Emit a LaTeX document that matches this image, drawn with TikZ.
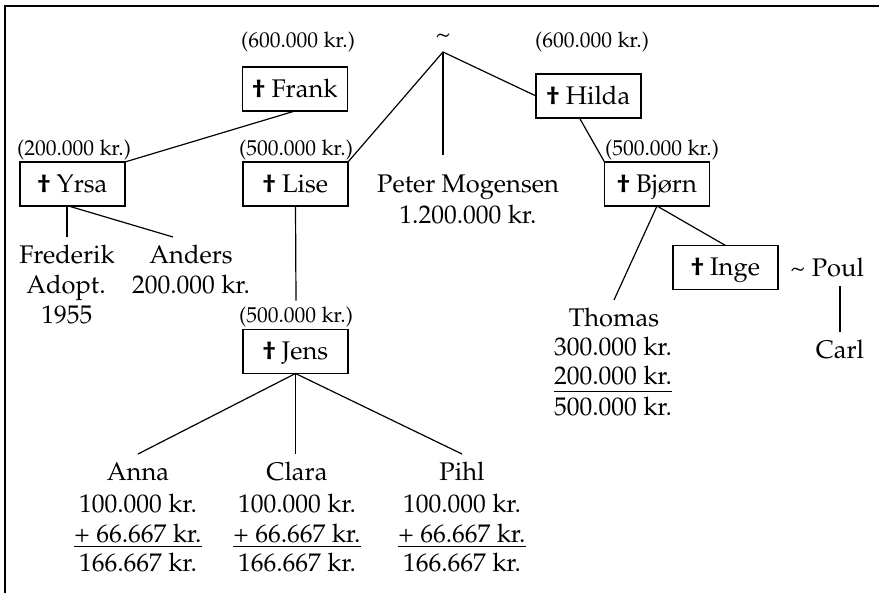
\documentclass[tikz,border=0pt]{standalone}
\usepackage[T1]{fontenc}
\usepackage{mathpazo}
\usetikzlibrary{calc}
\newcommand\bodyfont{\fontsize{25.5}{30}\selectfont}
\newcommand\labfont{\fontsize{21.5}{25}\selectfont}
\newcommand\dg{{\bfseries\textdagger}}
\newcommand\ulat[2]{\setbox0\hbox{#2}\rlap{\rule[-#1]{\wd0}{1.1pt}}\box0}
\tikzset{
  every node/.style={inner sep=0pt, outer sep=0pt},
  box/.style={draw, line width=1.3pt, minimum width=105pt, minimum height=44pt,
    font=\bodyfont, text height=17pt, text depth=0pt},
  txt/.style={font=\bodyfont, text height=17pt, text depth=0pt, inner ysep=9.5pt, inner xsep=2pt},
  lab/.style={font=\labfont, text height=14.8pt, text depth=0pt, inner ysep=7pt},
  conn/.style={line width=1.2pt},
}
\begin{document}
\begin{tikzpicture}[x=1pt,y=-1pt]
\useasboundingbox (0,0) rectangle (879,593);
\draw[line width=2.4pt] (5,593) -- (5,6) -- (879,6);

\node[font=\bodyfont] (tilde) at (443,38) {\textasciitilde};
\coordinate (J) at (443,52);
\node[lab] (frankL) at (298,40) {(600.000 kr.)};
\node[box] (frank) at (295,89) {\dg\ Frank};
\node[lab] (hildaL) at (592,40) {(600.000 kr.)};
\node[box] (hilda) at (588.5,96) {\dg\ Hilda};
\node[lab] (yrsaL) at (74,148) {(200.000 kr.)};
\node[box] (yrsa) at (72.5,184) {\dg\ Yrsa};
\node[lab] (liseL) at (296,148) {(500.000 kr.)};
\node[box] (lise) at (295.5,184) {\dg\ Lise};
\node[txt, inner ysep=20pt] (peter) at (468,184) {Peter Mogensen};
\node[txt] (peter2) at (468,215) {1.200.000 kr.};
\node[lab] (bjornL) at (662,148) {(500.000 kr.)};
\node[box] (bjorn) at (657,184) {\dg\ Bj\o rn};
\node[box] (inge) at (725.5,267.5) {\dg\ Inge};
\node[txt, anchor=west] (poul) at (788,268) {\textasciitilde\ Poul};
\node[txt] (carl) at (840,350) {Carl};
\node[txt] (thomas) at (614,318) {Thomas};
\node[txt] (th1) at (613,347) {300.000 kr.};
\node[txt] (th2) at (613,376) {\ulat{8pt}{200.000 kr.}};
\node[txt] (th3) at (613,407) {500.000 kr.};
\node[txt] (fred) at (67,255) {Frederik};
\node[txt] (fred2) at (66,285) {Adopt.};
\node[txt] (fred3) at (67,315) {1955};
\node[txt] (anders) at (191,255) {Anders};
\node[txt] (anders2) at (191,285) {200.000 kr.};
\node[lab] (jensL) at (296,315) {(500.000 kr.)};
\node[box] (jens) at (295.5,351.5) {\dg\ Jens};
\foreach \n/\x/\name in {anna/138/Anna, clara/297/Clara, pihl/462/Pihl} {
  \node[txt] (\n) at (\x,472) {\name};
  \node[txt] (\n1) at (\x,504) {100.000 kr.};
  \node[txt] (\n2) at (\x,534) {\ulat{4.5pt}{+ 66.667 kr.}};
  \node[txt] (\n3) at (\x,563) {166.667 kr.};
}

\draw[conn] (frank.south) -- (yrsa.north east);
\draw[conn] (lise.north east) -- (J) -- (hilda.west);
\draw[conn] (J) -- (J |- peter.north);
\draw[conn] ($(hilda.south)+(-9,0)$) -- (bjorn.north west);
\draw[conn] (bjorn.south) -- (thomas.north);
\draw[conn] (bjorn.south) -- (inge.north);
\draw[conn] (carl.north |- poul.south) -- (carl.north);
\draw[conn] (fred.north |- yrsa.south) -- (fred.north);
\draw[conn] ($(yrsa.south)+(-4,0)$) -- ($(anders.north)+(-18,0)$);
\draw[conn] (lise.south) -- (jensL.north);
\draw[conn] (jens.south) -- (anna.north);
\draw[conn] (jens.south) -- (jens.south |- clara.north);
\draw[conn] (jens.south) -- (pihl.north);
\end{tikzpicture}
\end{document}
